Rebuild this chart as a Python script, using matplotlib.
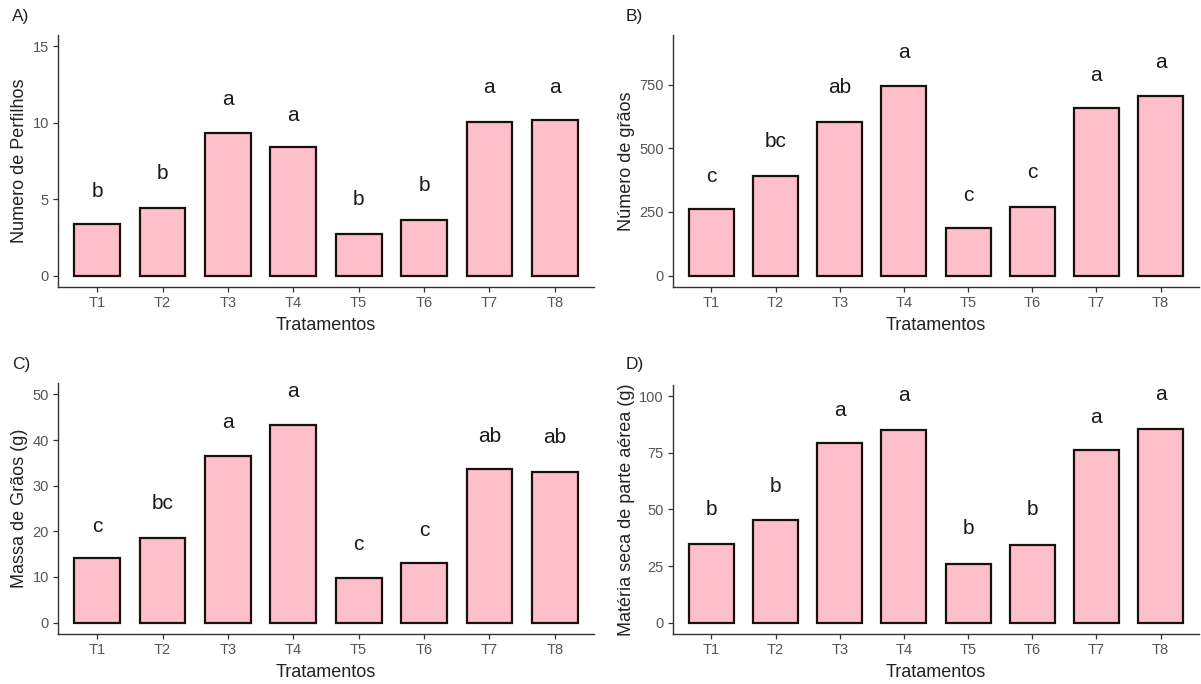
import matplotlib
matplotlib.use("Agg")
import matplotlib.pyplot as plt
import numpy as np

plt.rcParams['font.family'] = ['Liberation Sans', 'DejaVu Sans']

treatments = ["T1", "T2", "T3", "T4", "T5", "T6", "T7", "T8"]

perfilhos = [3.35, 4.45, 9.35, 8.4, 2.75, 3.65, 10.05, 10.2]
perfilhos_letters = ["b", "b", "a", "a", "b", "b", "a", "a"]
perfilhos_label_y = [5.5, 6.7, 11.5, 10.5, 5.0, 5.9, 12.3, 12.3]

graos = [261, 391, 602, 746, 185, 270, 657, 705]
graos_letters = ["c", "bc", "ab", "a", "c", "c", "a", "a"]
graos_label_y = [389, 525, 738, 875, 314, 404, 786, 838]

massa = [14.1, 18.5, 36.4, 43.3, 9.7, 13.0, 33.6, 33.1]
massa_letters = ["c", "bc", "a", "a", "c", "c", "ab", "ab"]
massa_label_y = [21.1, 26.2, 43.8, 50.6, 17.1, 20.2, 40.8, 40.5]

materia = [34.8, 45.4, 79.5, 85.1, 25.9, 34.4, 76.3, 85.5]
materia_letters = ["b", "b", "a", "a", "b", "b", "a", "a"]
materia_label_y = [49.8, 60.2, 93.9, 100.3, 41.4, 49.8, 90.8, 100.7]

W, H = 1201, 684
fig = plt.figure(figsize=(W / 100, H / 100), dpi=100)
fig.patch.set_facecolor("white")

panels = [
    ("A)", perfilhos, perfilhos_letters, perfilhos_label_y, "Numero de Perfilhos",
     [0, 5, 10, 15], 15, (58, 594, 35, 287), (12, 16)),
    ("B)", graos, graos_letters, graos_label_y, "Número de grãos",
     [0, 250, 500, 750], 900, (673, 1199, 35, 287), (626, 16)),
    ("C)", massa, massa_letters, massa_label_y, "Massa de Grãos (g)",
     [0, 10, 20, 30, 40, 50], 50, (58, 594, 383, 634), (12, 364)),
    ("D)", materia, materia_letters, materia_label_y, "Matéria seca de parte aérea (g)",
     [0, 25, 50, 75, 100], 100, (673, 1199, 385, 634), (626, 364)),
]

x = np.arange(1, len(treatments) + 1)
for tag, vals, letters, ly, ylabel, yticks, ymax, (l, r, t, b), (tx, ty) in panels:
    ax = fig.add_axes([l / W, (H - b) / H, (r - l) / W, (b - t) / H])
    ax.bar(x, vals, width=0.7, color="#FFC0CB", edgecolor="#1a1010", linewidth=1.6, zorder=2)
    for xi, lab, yy in zip(x, letters, ly):
        ax.text(xi, yy, lab, ha="center", va="center", fontsize=15, color="#1a1a1a")
    ax.set_xlim(0.4, 8.6)
    ax.set_ylim(-0.05 * ymax, 1.05 * ymax)
    ax.set_xticks(x)
    ax.set_xticklabels(treatments)
    ax.set_yticks(yticks)
    for s in ["top", "right"]:
        ax.spines[s].set_visible(False)
    for s in ["left", "bottom"]:
        ax.spines[s].set_color("#333333")
        ax.spines[s].set_linewidth(1.0)
    ax.tick_params(axis="both", colors="#333333", labelcolor="#555555", labelsize=10.5,
                   length=3.5, width=0.9, pad=3)
    ax.set_xlabel("Tratamentos", fontsize=13, color="#222222", labelpad=5)
    ax.set_ylabel(ylabel, fontsize=13, color="#222222", labelpad=3)
    fig.text(tx / W, 1 - ty / H, tag, fontsize=12.5, color="#222222", ha="left", va="center")

fig.savefig("out.png", dpi=100, facecolor="white")
